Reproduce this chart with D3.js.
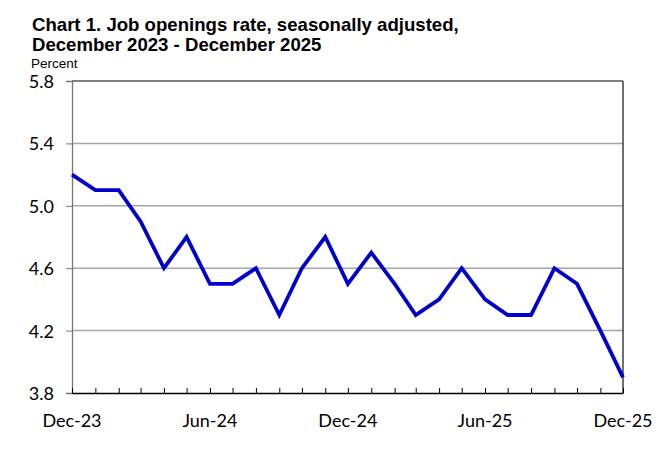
<!DOCTYPE html>
<html>
<head>
<meta charset="utf-8">
<script src="https://cdn.jsdelivr.net/npm/d3@7"></script>
<style>
  body { margin: 0; background: #fff; }
  svg { display: block; }
</style>
</head>
<body>
<div id="canvas"></div>
<script>
// monthly job openings rate, Dec 2023 .. Dec 2025
var MONTHS = ['2023-12', '2024-01', '2024-02', '2024-03', '2024-04', '2024-05', '2024-06',
              '2024-07', '2024-08', '2024-09', '2024-10', '2024-11', '2024-12',
              '2025-01', '2025-02', '2025-03', '2025-04', '2025-05', '2025-06',
              '2025-07', '2025-08', '2025-09', '2025-10', '2025-11', '2025-12'];
var RATES = [5.2, 5.1, 5.1, 4.9, 4.6, 4.8, 4.5, 4.5, 4.6, 4.3, 4.6, 4.8, 4.5,
             4.7, 4.5, 4.3, 4.4, 4.6, 4.4, 4.3, 4.3, 4.6, 4.5, 4.2, 3.9];
var Y_TICKS = [3.8, 4.2, 4.6, 5.0, 5.4, 5.8];
var X_LABEL_MONTHS = ['2023-12', '2024-06', '2024-12', '2025-06', '2025-12'];

var W = 663, H = 451;
var LEFT = 72, RIGHT = 623, TOP = 81, BOTTOM = 393;

var parse = d3.timeParse('%Y-%m');
var data = MONTHS.map(function(m, i) { return { date: parse(m), value: RATES[i] }; });

var svg = d3.select('#canvas').append('svg')
    .attr('width', W)
    .attr('height', H);

var x = d3.scaleTime()
    .domain(d3.extent(data, function(d) { return d.date; }))
    .range([LEFT, RIGHT]);

var y = d3.scaleLinear()
    .domain([3.8, 5.8])
    .range([BOTTOM, TOP]);

// title
svg.append('text')
    .attr('x', 32).attr('y', 31)
    .style('font-family', 'Liberation Sans, Arial, sans-serif')
    .style('font-weight', 'bold')
    .style('font-size', '18.6px')
    .text('Chart 1. Job openings rate, seasonally adjusted,');
svg.append('text')
    .attr('x', 32).attr('y', 51)
    .style('font-family', 'Liberation Sans, Arial, sans-serif')
    .style('font-weight', 'bold')
    .style('font-size', '18.6px')
    .text('December 2023 - December 2025');
svg.append('text')
    .attr('x', 31).attr('y', 68)
    .style('font-family', 'Liberation Sans, Arial, sans-serif')
    .style('font-size', '13.5px')
    .text('Percent');

// gridlines
svg.append('g').selectAll('line')
    .data(Y_TICKS.slice(1, -1))
    .enter().append('line')
    .attr('x1', LEFT).attr('x2', RIGHT)
    .attr('y1', function(d) { return y(d); })
    .attr('y2', function(d) { return y(d); })
    .attr('stroke', '#a6a6a6')
    .attr('stroke-width', 1.5);

// frame top/right
svg.append('line')
    .attr('x1', LEFT).attr('x2', RIGHT).attr('y1', TOP).attr('y2', TOP)
    .attr('stroke', '#555').attr('stroke-width', 1.3);
svg.append('line')
    .attr('x1', RIGHT).attr('x2', RIGHT).attr('y1', TOP).attr('y2', BOTTOM)
    .attr('stroke', '#222').attr('stroke-width', 1.3);

// y axis
var yAxis = svg.append('g')
    .attr('transform', 'translate(' + LEFT + ',0)')
    .call(d3.axisLeft(y).tickValues(Y_TICKS).tickSize(6).tickFormat(d3.format('.1f')));
yAxis.select('.domain').attr('stroke', '#777').attr('stroke-width', 1.3);
yAxis.selectAll('.tick line').attr('stroke', '#777');
yAxis.selectAll('.tick text')
    .attr('x', -18)
    .attr('dy', '0.36em')
    .style('font-family', 'Lato, Carlito, Calibri, sans-serif')
    .style('font-size', '18px')
    .attr('fill', '#000');

// x axis: monthly ticks pointing up
var xAxis = svg.append('g')
    .attr('transform', 'translate(0,' + BOTTOM + ')')
    .call(d3.axisBottom(x).tickValues(data.map(function(d) { return d.date; }))
        .tickSizeInner(-5).tickSizeOuter(0).tickFormat(''));
xAxis.select('.domain').attr('stroke', '#000').attr('stroke-width', 1.5);
xAxis.selectAll('.tick line').attr('stroke', '#000');

var labelFmt = d3.timeFormat('%b-%y');
svg.append('g').selectAll('text')
    .data(X_LABEL_MONTHS.map(parse))
    .enter().append('text')
    .attr('x', function(d) { return x(d); })
    .attr('y', BOTTOM + 34)
    .attr('text-anchor', 'middle')
    .style('font-family', 'Lato, Carlito, Calibri, sans-serif')
    .style('font-size', '18px')
    .text(function(d) { return labelFmt(d); });

// line
var line = d3.line()
    .x(function(d) { return x(d.date); })
    .y(function(d) { return y(d.value); });

svg.append('path')
    .datum(data)
    .attr('d', line)
    .attr('fill', 'none')
    .attr('stroke', '#0000cc')
    .attr('stroke-width', 3.8)
    .attr('stroke-linejoin', 'miter');
</script>
</body>
</html>
